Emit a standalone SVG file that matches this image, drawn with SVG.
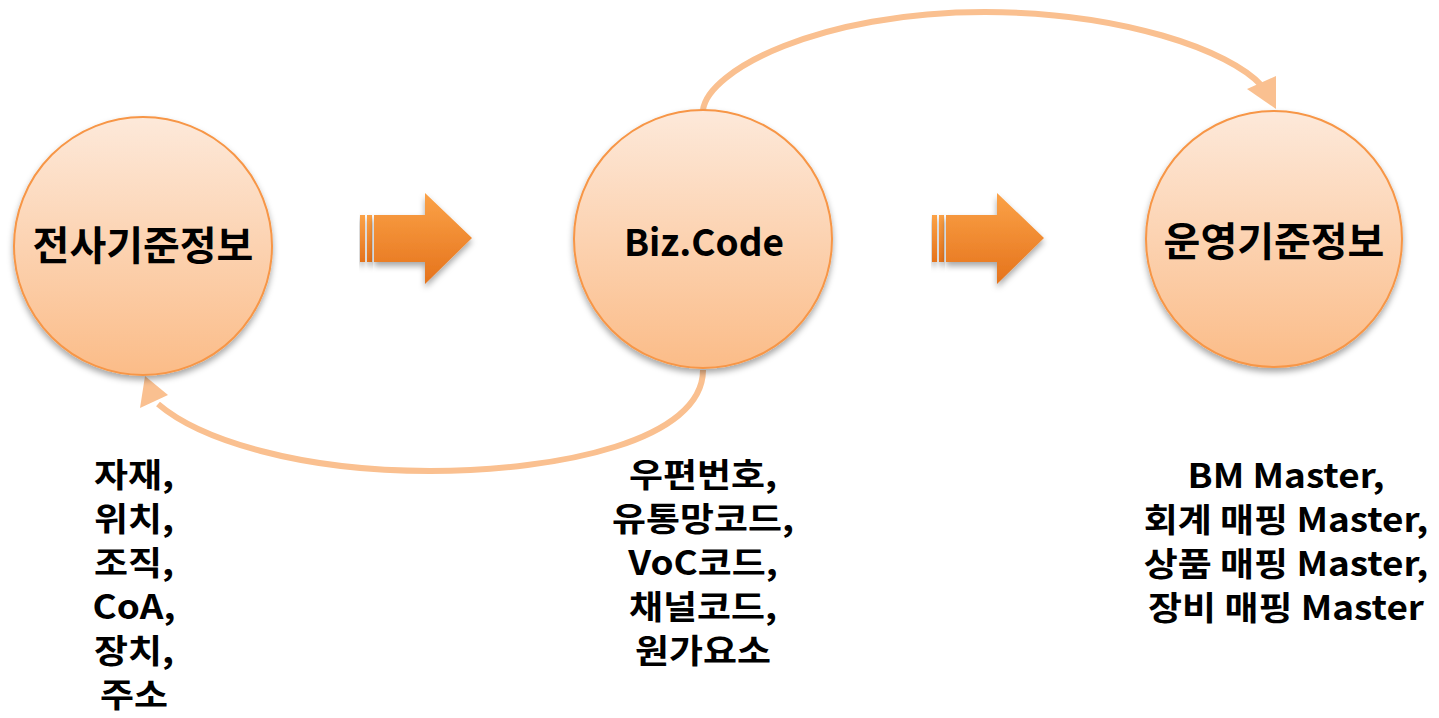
<svg xmlns="http://www.w3.org/2000/svg" width="1439" height="718" viewBox="0 0 1439 718">
  <defs>
    <linearGradient id="circleFill" x1="0" y1="0" x2="0" y2="1">
      <stop offset="0" stop-color="#FDE9DA"/>
      <stop offset="1" stop-color="#FBBC88"/>
    </linearGradient>
    <linearGradient id="arrowFill" x1="0" y1="0" x2="0" y2="1">
      <stop offset="0" stop-color="#FBA247"/>
      <stop offset="1" stop-color="#E5731C"/>
    </linearGradient>
    <filter id="shadow" x="-20%" y="-20%" width="140%" height="150%">
      <feDropShadow dx="0" dy="4" stdDeviation="3" flood-color="#000" flood-opacity="0.35"/>
    </filter>
  </defs>
  <style>
    .node { fill: url(#circleFill); stroke: #F79646; stroke-width: 2; filter: url(#shadow); }
    .label { font-family: "Noto Sans CJK KR", "Liberation Sans", sans-serif; font-weight: bold; font-size: 40px; fill: #000; text-anchor: middle; }
    .latin { font-size: 37px; }
    .desc { font-family: "Noto Sans CJK KR", "Liberation Sans", sans-serif; font-weight: bold; font-size: 33px; fill: #000; text-anchor: middle; }
    .conn { fill: none; stroke: #FAC090; stroke-width: 6; }
    .head { fill: #FAC090; }
    .blk { fill: url(#arrowFill); filter: url(#shadow); }
  </style>
  <rect width="1439" height="718" fill="#FFFFFF"/>

  <g id="connectors">
    <path class="conn" d="M 703 110 C 708 70, 820 12, 985 12 C 1120 12, 1230 50, 1262 86"/>
    <polygon class="head" points="1247,89 1276,76 1276,109"/>
    <path class="conn" d="M 703 370 C 703 440, 560 471, 430 471 C 300 471, 200 440, 158 404"/>
    <polygon class="head" points="140,408 145,376 168,395"/>
  </g>

  <g id="block-arrow-1">
    <rect class="blk" x="360" y="215" width="5" height="47"/>
    <rect class="blk" x="367" y="215" width="5" height="47"/>
    <polygon class="blk" points="374,215 425,215 425,193 472,238 425,284 425,262 374,262"/>
  </g>
  <g id="block-arrow-2">
    <rect class="blk" x="932" y="215" width="5" height="47"/>
    <rect class="blk" x="939" y="215" width="5" height="47"/>
    <polygon class="blk" points="946,215 997,215 997,193 1044,238 997,284 997,262 946,262"/>
  </g>

  <g id="node-jeonsa">
    <circle class="node" cx="143" cy="246" r="129"/>
    <text class="label" x="143" y="260">전사기준정보</text>
  </g>
  <g id="node-bizcode">
    <circle class="node" cx="703" cy="239" r="129"/>
    <text class="label latin" x="704" y="256">Biz.Code</text>
  </g>
  <g id="node-unyoung">
    <circle class="node" cx="1274" cy="239" r="128"/>
    <text class="label" x="1274" y="256">운영기준정보</text>
  </g>

  <g id="desc-jeonsa" transform="translate(134,0) scale(1.12,1)">
    <text class="desc" x="0" y="487">자재,</text>
    <text class="desc" x="0" y="531">위치,</text>
    <text class="desc" x="0" y="575">조직,</text>
    <text class="desc" x="0" y="619">CoA,</text>
    <text class="desc" x="0" y="663">장치,</text>
    <text class="desc" x="0" y="707">주소</text>
  </g>
  <g id="desc-bizcode" transform="translate(703,0) scale(1.12,1)">
    <text class="desc" x="0" y="487">우편번호,</text>
    <text class="desc" x="0" y="531">유통망코드,</text>
    <text class="desc" x="0" y="575">VoC코드,</text>
    <text class="desc" x="0" y="619">채널코드,</text>
    <text class="desc" x="0" y="663">원가요소</text>
  </g>
  <g id="desc-unyoung" transform="translate(1286,0) scale(1.12,1)">
    <text class="desc" x="0" y="488">BM Master,</text>
    <text class="desc" x="0" y="532">회계 매핑 Master,</text>
    <text class="desc" x="0" y="576">상품 매핑 Master,</text>
    <text class="desc" x="0" y="620">장비 매핑 Master</text>
  </g>
</svg>
